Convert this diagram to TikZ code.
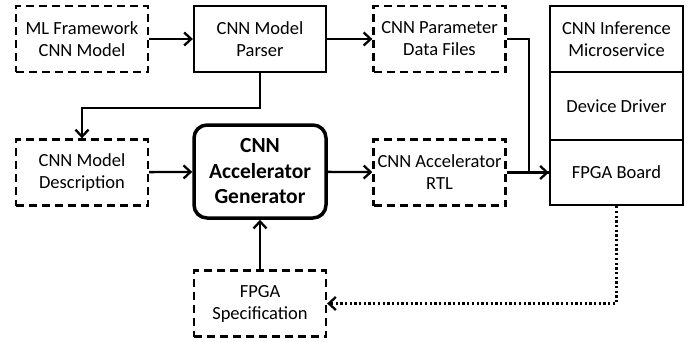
\documentclass[tikz,border=0pt]{standalone}
\usepackage{fontspec}
\setmainfont{Carlito}
\usetikzlibrary{arrows.meta}

\begin{document}
\begin{tikzpicture}[x=1pt,y=-1pt,
  box/.style={draw, line width=2.3pt, minimum width=132pt, minimum height=66pt,
    align=center, inner sep=0pt, font=\fontsize{18.5}{22}\selectfont},
  dbox/.style={box, dash pattern=on 8pt off 5pt},
  genbox/.style={box, line width=3.5pt, rounded corners=13pt, minimum height=93pt,
    font=\fontsize{21.5}{25.5}\selectfont\bfseries},
  cell/.style={box, minimum width=133pt},
  arr/.style={line width=2.3pt, -{Straight Barb[length=7pt,width=13pt,line width=2.3pt]}},
  link/.style={line width=2.3pt},
  dotarr/.style={arr, dash pattern=on 2.3pt off 2.4pt}
]
\useasboundingbox (0,0) rectangle (689,341);

% input, parser and parameter files
\node[dbox] (ml) at (82,39) {ML Framework\\CNN Model};
\node[box] (parser) at (260,39) {CNN Model\\Parser};
\node[dbox] (param) at (439.5,39) {CNN Parameter\\Data Files};

% generator row
\node[dbox] (desc) at (82,172.5) {CNN Model\\Description};
\node[genbox] (gen) at (260,171.5) {CNN\\Accelerator\\Generator};
\node[dbox] (rtl) at (439.5,172.5) {CNN Accelerator\\RTL};

% FPGA specification
\node[dbox] (spec) at (260,303.5) {FPGA\\Specification};

% deployment stack
\node[cell, minimum height=66pt] (svc) at (616.5,39) {CNN Inference\\Microservice};
\node[cell, minimum height=68pt] (drv) at (616.5,106) {Device Driver};
\node[cell, minimum height=65pt] (board) at (616.5,172.5) {FPGA Board};

% connectors
\draw[arr] (ml) -- (parser);
\draw[arr] (parser) -- (param);
\draw[arr] (parser.south) -- ++(0,35) -| (desc.north);
\draw[arr] (desc) -- (gen);
\draw[arr] (gen) -- (rtl);
\draw[arr] (spec) -- (gen);
\draw[link] (param.east) -- ++(22,0) |- (board.west);
\draw[arr] (rtl) -- (board);
\draw[dotarr] (board.south) -- (board.south |- spec.east) -- (spec.east);
\end{tikzpicture}
\end{document}
